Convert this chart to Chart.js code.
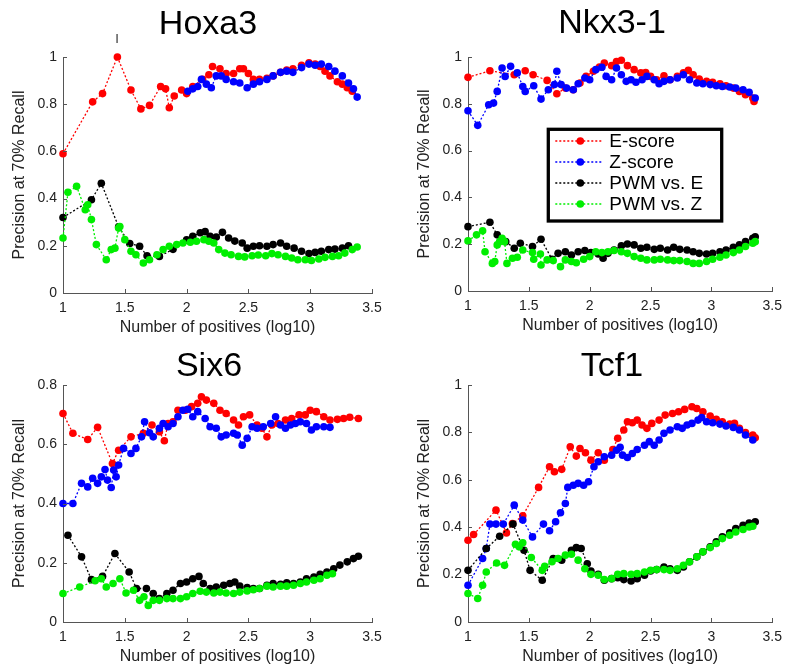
<!DOCTYPE html>
<html>
<head>
<meta charset="utf-8">
<title>Precision at 70% Recall</title>
<script src="https://cdn.jsdelivr.net/npm/chart.js@4.4.0/dist/chart.umd.min.js"></script>
<style>
    body { margin: 0; background: #fff; }
    #wrap { position: relative; width: 789px; height: 671px; }
    #wrap canvas { position: absolute; left: 0; top: 0; }
</style>
</head>
<body>
<div id="wrap">
    <canvas id="c1" width="789" height="671"></canvas>
    <canvas id="c2" width="789" height="671"></canvas>
    <canvas id="c3" width="789" height="671"></canvas>
    <canvas id="c4" width="789" height="671"></canvas>
</div>
<script>
// Series names / colours (same in every panel)
const seriesLabels = ['E-score', 'Z-score', 'PWM vs. E', 'PWM vs. Z'];
const seriesColors = ['#ff0000', '#0000ff', '#000000', '#00ee00'];
const xTicks = [1, 1.5, 2, 2.5, 3, 3.5];

// Hoxa3
const hoxa3EX = [1.0, 1.24, 1.32, 1.44, 1.55, 1.63, 1.70, 1.79, 1.83, 1.86, 1.90, 1.96, 2.0, 2.05, 2.13, 2.18, 2.21, 2.27, 2.32, 2.38, 2.43, 2.46, 2.5, 2.54, 2.59, 2.65, 2.7, 2.76, 2.81, 2.86, 2.93, 2.99, 3.04, 3.08, 3.12, 3.16, 3.22, 3.26, 3.3, 3.34];
const hoxa3EY = [0.59, 0.81, 0.845, 1.0, 0.86, 0.78, 0.795, 0.875, 0.865, 0.785, 0.835, 0.86, 0.845, 0.875, 0.905, 0.925, 0.96, 0.95, 0.93, 0.93, 0.95, 0.95, 0.93, 0.905, 0.905, 0.91, 0.92, 0.935, 0.945, 0.95, 0.965, 0.975, 0.97, 0.96, 0.94, 0.92, 0.895, 0.885, 0.87, 0.855];
const hoxa3ZX = [2.01, 2.05, 2.09, 2.12, 2.16, 2.2, 2.24, 2.28, 2.32, 2.38, 2.43, 2.49, 2.54, 2.59, 2.65, 2.7, 2.76, 2.81, 2.86, 2.93, 2.99, 3.04, 3.09, 3.15, 3.2, 3.26, 3.31, 3.35, 3.38];
const hoxa3ZY = [0.855, 0.865, 0.875, 0.905, 0.885, 0.87, 0.92, 0.92, 0.905, 0.895, 0.89, 0.87, 0.885, 0.895, 0.905, 0.92, 0.935, 0.94, 0.935, 0.955, 0.97, 0.965, 0.97, 0.96, 0.94, 0.92, 0.89, 0.865, 0.83];
const hoxa3PEX = [1.0, 1.23, 1.31, 1.45, 1.54, 1.62, 1.68, 1.78, 1.89, 2.0, 2.05, 2.11, 2.15, 2.19, 2.24, 2.29, 2.34, 2.39, 2.45, 2.49, 2.54, 2.59, 2.65, 2.7, 2.76, 2.81, 2.87, 2.93, 2.99, 3.04, 3.09, 3.15, 3.2, 3.26, 3.31];
const hoxa3PEY = [0.32, 0.395, 0.465, 0.28, 0.21, 0.198, 0.158, 0.155, 0.185, 0.225, 0.24, 0.255, 0.26, 0.24, 0.237, 0.257, 0.233, 0.22, 0.212, 0.19, 0.198, 0.2, 0.198, 0.205, 0.212, 0.198, 0.19, 0.177, 0.167, 0.172, 0.177, 0.184, 0.186, 0.19, 0.2];
const hoxa3PZX = [1.0, 1.04, 1.11, 1.18, 1.2, 1.23, 1.27, 1.35, 1.39, 1.42, 1.45, 1.46, 1.5, 1.55, 1.59, 1.65, 1.7, 1.76, 1.81, 1.86, 1.92, 1.97, 2.03, 2.08, 2.14, 2.18, 2.22, 2.26, 2.31, 2.36, 2.42, 2.47, 2.53, 2.58, 2.64, 2.69, 2.74, 2.8, 2.85, 2.9, 2.96, 3.01, 3.07, 3.12, 3.18, 3.23, 3.28, 3.34, 3.38];
const hoxa3PZY = [0.233, 0.427, 0.452, 0.353, 0.374, 0.311, 0.205, 0.141, 0.184, 0.19, 0.275, 0.282, 0.226, 0.177, 0.162, 0.127, 0.141, 0.162, 0.184, 0.198, 0.205, 0.212, 0.215, 0.219, 0.226, 0.219, 0.212, 0.184, 0.169, 0.162, 0.155, 0.153, 0.158, 0.161, 0.158, 0.167, 0.162, 0.155, 0.148, 0.141, 0.141, 0.138, 0.144, 0.151, 0.155, 0.158, 0.169, 0.184, 0.195];

// Nkx3-1
const nkxEX = [1.0, 1.18, 1.38, 1.47, 1.535, 1.65, 1.73, 1.8, 1.865, 1.92, 1.97, 2.03, 2.08, 2.12, 2.18, 2.22, 2.26, 2.31, 2.365, 2.42, 2.46, 2.5, 2.55, 2.61, 2.66, 2.72, 2.77, 2.81, 2.85, 2.9, 2.96, 3.01, 3.07, 3.12, 3.18, 3.23, 3.28, 3.34, 3.35];
const nkxEY = [0.913, 0.941, 0.924, 0.941, 0.924, 0.9, 0.843, 0.867, 0.86, 0.889, 0.917, 0.939, 0.957, 0.974, 0.963, 0.981, 0.986, 0.963, 0.946, 0.932, 0.934, 0.917, 0.903, 0.92, 0.903, 0.917, 0.932, 0.943, 0.924, 0.906, 0.896, 0.892, 0.886, 0.877, 0.867, 0.853, 0.839, 0.825, 0.81];
const nkxZX = [1.0, 1.08, 1.17, 1.21, 1.24, 1.28, 1.305, 1.35, 1.405, 1.45, 1.47, 1.54, 1.6, 1.66, 1.71, 1.73, 1.765, 1.81, 1.865, 1.905, 1.96, 2.0, 2.05, 2.1, 2.135, 2.18, 2.22, 2.26, 2.3, 2.34, 2.38, 2.43, 2.47, 2.53, 2.57, 2.61, 2.66, 2.72, 2.77, 2.82, 2.88, 2.93, 2.99, 3.04, 3.09, 3.15, 3.2, 3.26, 3.31, 3.36];
const nkxZY = [0.77, 0.708, 0.796, 0.803, 0.853, 0.953, 0.917, 0.96, 0.932, 0.874, 0.853, 0.877, 0.82, 0.86, 0.882, 0.939, 0.882, 0.867, 0.86, 0.886, 0.91, 0.903, 0.946, 0.956, 0.917, 0.903, 0.953, 0.924, 0.896, 0.903, 0.892, 0.903, 0.917, 0.903, 0.886, 0.896, 0.903, 0.91, 0.924, 0.903, 0.889, 0.886, 0.882, 0.877, 0.874, 0.872, 0.867, 0.86, 0.849, 0.825];
const nkxPEX = [1.0, 1.18, 1.24, 1.31, 1.38, 1.43, 1.53, 1.6, 1.69, 1.74, 1.8, 1.85, 1.905, 1.96, 2.01, 2.07, 2.11, 2.15, 2.2, 2.26, 2.31, 2.365, 2.42, 2.47, 2.53, 2.58, 2.64, 2.69, 2.74, 2.8, 2.85, 2.9, 2.96, 3.01, 3.07, 3.12, 3.18, 3.23, 3.28, 3.34, 3.36];
const nkxPEY = [0.275, 0.294, 0.24, 0.211, 0.183, 0.204, 0.19, 0.221, 0.136, 0.161, 0.168, 0.154, 0.168, 0.173, 0.164, 0.158, 0.14, 0.161, 0.175, 0.193, 0.201, 0.197, 0.183, 0.187, 0.178, 0.183, 0.175, 0.187, 0.178, 0.175, 0.168, 0.161, 0.158, 0.161, 0.168, 0.175, 0.187, 0.197, 0.211, 0.225, 0.232];
const nkxPZX = [1.0, 1.07, 1.12, 1.14, 1.2, 1.22, 1.24, 1.26, 1.28, 1.3, 1.32, 1.365, 1.405, 1.45, 1.53, 1.54, 1.595, 1.6, 1.65, 1.7, 1.76, 1.8, 1.85, 1.89, 1.95, 2.0, 2.05, 2.1, 2.15, 2.2, 2.26, 2.31, 2.365, 2.42, 2.47, 2.53, 2.58, 2.64, 2.69, 2.74, 2.8, 2.85, 2.9, 2.96, 3.01, 3.07, 3.12, 3.18, 3.23, 3.28, 3.34, 3.36];
const nkxPZY = [0.214, 0.24, 0.257, 0.168, 0.118, 0.126, 0.197, 0.211, 0.225, 0.211, 0.118, 0.14, 0.144, 0.175, 0.164, 0.136, 0.158, 0.111, 0.133, 0.13, 0.104, 0.133, 0.126, 0.121, 0.136, 0.147, 0.168, 0.164, 0.168, 0.173, 0.168, 0.161, 0.147, 0.14, 0.133, 0.133, 0.136, 0.133, 0.13, 0.13, 0.126, 0.118, 0.118, 0.126, 0.136, 0.144, 0.154, 0.164, 0.175, 0.19, 0.204, 0.211];

// Six6
const six6EX = [1.0, 1.08, 1.2, 1.28, 1.4, 1.45, 1.55, 1.65, 1.72, 1.78, 1.82, 1.85, 1.89, 1.93, 1.99, 2.04, 2.09, 2.12, 2.16, 2.22, 2.27, 2.32, 2.38, 2.42, 2.46, 2.51, 2.57, 2.61, 2.65, 2.69, 2.74, 2.8, 2.85, 2.91, 2.96, 3.0, 3.05, 3.11, 3.16, 3.22, 3.27, 3.32, 3.39];
const six6EY = [0.704, 0.637, 0.616, 0.657, 0.535, 0.58, 0.625, 0.637, 0.665, 0.642, 0.612, 0.67, 0.676, 0.715, 0.715, 0.727, 0.738, 0.76, 0.749, 0.738, 0.715, 0.704, 0.682, 0.665, 0.693, 0.699, 0.665, 0.654, 0.625, 0.665, 0.67, 0.682, 0.687, 0.699, 0.699, 0.715, 0.71, 0.693, 0.682, 0.684, 0.687, 0.691, 0.687];
const six6ZX = [1.0, 1.08, 1.15, 1.2, 1.24, 1.28, 1.31, 1.34, 1.36, 1.39, 1.41, 1.43, 1.45, 1.49, 1.55, 1.59, 1.635, 1.66, 1.7, 1.73, 1.78, 1.81, 1.85, 1.89, 1.93, 1.97, 2.01, 2.05, 2.09, 2.15, 2.19, 2.24, 2.28, 2.32, 2.38, 2.41, 2.45, 2.49, 2.53, 2.57, 2.62, 2.68, 2.72, 2.76, 2.8, 2.84, 2.88, 2.92, 2.97, 3.01, 3.05, 3.11, 3.16];
const six6ZY = [0.4, 0.4, 0.468, 0.456, 0.485, 0.468, 0.49, 0.515, 0.479, 0.454, 0.513, 0.49, 0.53, 0.586, 0.569, 0.586, 0.625, 0.676, 0.639, 0.625, 0.654, 0.67, 0.659, 0.67, 0.693, 0.715, 0.718, 0.693, 0.71, 0.687, 0.659, 0.654, 0.625, 0.631, 0.637, 0.631, 0.597, 0.62, 0.659, 0.654, 0.659, 0.67, 0.693, 0.665, 0.654, 0.665, 0.67, 0.676, 0.67, 0.648, 0.659, 0.659, 0.657];
const six6PEX = [1.04, 1.15, 1.23, 1.32, 1.42, 1.535, 1.595, 1.675, 1.73, 1.78, 1.84, 1.89, 1.95, 2.0, 2.05, 2.1, 2.135, 2.19, 2.24, 2.3, 2.35, 2.39, 2.43, 2.49, 2.54, 2.59, 2.65, 2.7, 2.76, 2.81, 2.865, 2.92, 2.97, 3.03, 3.08, 3.135, 3.19, 3.24, 3.3, 3.35, 3.39];
const six6PEY = [0.293, 0.22, 0.143, 0.154, 0.231, 0.169, 0.113, 0.113, 0.096, 0.079, 0.096, 0.107, 0.13, 0.135, 0.146, 0.154, 0.13, 0.113, 0.118, 0.124, 0.13, 0.135, 0.121, 0.116, 0.113, 0.113, 0.124, 0.13, 0.127, 0.132, 0.13, 0.135, 0.146, 0.152, 0.161, 0.169, 0.18, 0.192, 0.203, 0.214, 0.222];
const six6PZX = [1.0, 1.135, 1.26, 1.31, 1.35, 1.405, 1.46, 1.51, 1.57, 1.62, 1.655, 1.69, 1.73, 1.78, 1.84, 1.89, 1.95, 2.0, 2.05, 2.11, 2.16, 2.22, 2.27, 2.32, 2.38, 2.43, 2.49, 2.54, 2.59, 2.65, 2.7, 2.76, 2.81, 2.865, 2.92, 2.97, 3.03, 3.08, 3.135, 3.18];
const six6PZY = [0.096, 0.118, 0.139, 0.146, 0.118, 0.13, 0.146, 0.098, 0.107, 0.073, 0.085, 0.056, 0.073, 0.073, 0.079, 0.079, 0.079, 0.085, 0.096, 0.104, 0.101, 0.098, 0.101, 0.098, 0.096, 0.101, 0.105, 0.109, 0.113, 0.121, 0.118, 0.121, 0.121, 0.124, 0.13, 0.135, 0.141, 0.146, 0.158, 0.163];

// Tcf1
const tcf1EX = [1.0, 1.046, 1.23, 1.316, 1.365, 1.45, 1.58, 1.67, 1.71, 1.77, 1.84, 1.89, 1.92, 1.965, 2.01, 2.07, 2.12, 2.19, 2.23, 2.28, 2.31, 2.35, 2.39, 2.43, 2.47, 2.51, 2.57, 2.62, 2.68, 2.73, 2.78, 2.84, 2.88, 2.93, 2.99, 3.04, 3.09, 3.15, 3.19, 3.23, 3.28, 3.34, 3.36];
const tcf1EY = [0.345, 0.369, 0.472, 0.376, 0.415, 0.448, 0.568, 0.655, 0.634, 0.644, 0.739, 0.7, 0.732, 0.714, 0.683, 0.714, 0.683, 0.728, 0.775, 0.81, 0.845, 0.841, 0.852, 0.831, 0.817, 0.838, 0.852, 0.873, 0.88, 0.887, 0.897, 0.908, 0.901, 0.887, 0.869, 0.855, 0.845, 0.835, 0.838, 0.817, 0.799, 0.789, 0.777];
const tcf1ZX = [1.0, 1.12, 1.15, 1.18, 1.23, 1.29, 1.38, 1.45, 1.53, 1.62, 1.67, 1.72, 1.76, 1.8, 1.82, 1.865, 1.905, 1.95, 1.99, 2.035, 2.07, 2.12, 2.18, 2.22, 2.25, 2.27, 2.31, 2.35, 2.39, 2.45, 2.49, 2.53, 2.57, 2.61, 2.66, 2.72, 2.76, 2.8, 2.84, 2.89, 2.92, 2.96, 3.01, 3.07, 3.12, 3.18, 3.23, 3.28, 3.34];
const tcf1ZY = [0.155, 0.268, 0.31, 0.413, 0.413, 0.413, 0.493, 0.43, 0.359, 0.413, 0.385, 0.423, 0.461, 0.5, 0.568, 0.577, 0.585, 0.577, 0.592, 0.655, 0.676, 0.697, 0.704, 0.725, 0.737, 0.704, 0.694, 0.711, 0.728, 0.746, 0.761, 0.746, 0.768, 0.796, 0.81, 0.824, 0.817, 0.831, 0.838, 0.852, 0.863, 0.845, 0.841, 0.835, 0.827, 0.821, 0.81, 0.789, 0.768];
const tcf1PEX = [1.0, 1.15, 1.26, 1.37, 1.46, 1.51, 1.61, 1.7, 1.77, 1.85, 1.89, 1.93, 1.98, 2.01, 2.07, 2.12, 2.18, 2.23, 2.28, 2.34, 2.39, 2.45, 2.5, 2.55, 2.61, 2.66, 2.72, 2.77, 2.82, 2.88, 2.93, 2.99, 3.04, 3.09, 3.15, 3.2, 3.26, 3.31, 3.36];
const tcf1PEY = [0.218, 0.31, 0.362, 0.413, 0.303, 0.218, 0.176, 0.268, 0.261, 0.303, 0.314, 0.31, 0.246, 0.215, 0.201, 0.176, 0.183, 0.187, 0.179, 0.173, 0.183, 0.197, 0.215, 0.221, 0.232, 0.225, 0.218, 0.232, 0.254, 0.275, 0.296, 0.317, 0.338, 0.359, 0.376, 0.394, 0.408, 0.418, 0.423];
const tcf1PZX = [1.0, 1.08, 1.12, 1.15, 1.235, 1.3, 1.39, 1.42, 1.45, 1.52, 1.61, 1.63, 1.69, 1.74, 1.8, 1.85, 1.905, 1.96, 2.01, 2.07, 2.12, 2.18, 2.23, 2.28, 2.34, 2.39, 2.45, 2.5, 2.55, 2.61, 2.66, 2.72, 2.77, 2.82, 2.88, 2.93, 2.99, 3.04, 3.09, 3.15, 3.2, 3.26, 3.31, 3.34];
const tcf1PZY = [0.12, 0.099, 0.155, 0.211, 0.249, 0.239, 0.328, 0.317, 0.334, 0.272, 0.218, 0.235, 0.254, 0.268, 0.282, 0.286, 0.261, 0.225, 0.201, 0.197, 0.179, 0.183, 0.201, 0.204, 0.201, 0.204, 0.211, 0.218, 0.221, 0.221, 0.218, 0.225, 0.239, 0.254, 0.275, 0.296, 0.314, 0.331, 0.352, 0.366, 0.38, 0.39, 0.401, 0.404];

const FONT = "'Liberation Sans', Arial, Helvetica, sans-serif";
const AXIS_COLOR = '#555';
const TEXT_COLOR = '#222';
const PAGE_W = 789, PAGE_H = 671;
const Y_AXIS_W = 53;   // room for y tick labels + y title
const X_AXIS_H = 44;   // room for x tick labels + x title

const panels = [
    { id: 'c1', title: 'Hoxa3', titleX: 208, titleY: 34, yMax: 1,
      area: { left: 63, right: 372, top: 57, bottom: 293 },
      series: [[hoxa3EX, hoxa3EY], [hoxa3ZX, hoxa3ZY], [hoxa3PEX, hoxa3PEY], [hoxa3PZX, hoxa3PZY]],
      mark: { x: 117, y: 43 } },
    { id: 'c2', title: 'Nkx3-1', titleX: 612, titleY: 33, yMax: 1,
      area: { left: 468, right: 777, top: 57, bottom: 291 },
      series: [[nkxEX, nkxEY], [nkxZX, nkxZY], [nkxPEX, nkxPEY], [nkxPZX, nkxPZY]],
      legend: { left: 548.3, top: 129.3, right: 721.7, bottom: 221, rows: [141, 162, 183, 204] } },
    { id: 'c3', title: 'Six6', titleX: 209, titleY: 376, yMax: 0.8,
      area: { left: 63, right: 372, top: 385, bottom: 622 },
      series: [[six6EX, six6EY], [six6ZX, six6ZY], [six6PEX, six6PEY], [six6PZX, six6PZY]] },
    { id: 'c4', title: 'Tcf1', titleX: 612, titleY: 376, yMax: 1,
      area: { left: 468, right: 777, top: 385, bottom: 622 },
      series: [[tcf1EX, tcf1EY], [tcf1ZX, tcf1ZY], [tcf1PEX, tcf1PEY], [tcf1PZX, tcf1PZY]] }
];

const toPoints = (xs, ys) => xs.map((x, i) => ({ x: x, y: ys[i] }));
const tickText = (v) => String(Number(v.toFixed(2)));

// Draws the MATLAB-ish bits Chart.js has no option for:
// panel title, inward tick marks and the boxed legend
const panelExtras = {
    id: 'panelExtras',
    afterDraw(chart, args, opts) {
        const ctx = chart.ctx;
        const area = chart.chartArea;
        const xs = chart.scales.x;
        const ys = chart.scales.y;
        ctx.save();

        // inward ticks
        ctx.strokeStyle = AXIS_COLOR;
        ctx.lineWidth = 1;
        ctx.beginPath();
        xs.ticks.forEach(t => {
            const px = Math.round(xs.getPixelForValue(t.value)) + 0.5;
            ctx.moveTo(px, area.bottom);
            ctx.lineTo(px, area.bottom - 4);
        });
        ys.ticks.forEach(t => {
            const py = Math.round(ys.getPixelForValue(t.value)) + 0.5;
            ctx.moveTo(area.left, py);
            ctx.lineTo(area.left + 4, py);
        });
        ctx.stroke();

        // title
        ctx.fillStyle = '#000';
        ctx.font = '34px ' + FONT;
        ctx.textAlign = 'center';
        ctx.textBaseline = 'alphabetic';
        ctx.fillText(opts.title, opts.titleX, opts.titleY);

        if (opts.mark) {
            ctx.fillStyle = '#333';
            ctx.font = '13px ' + FONT;
            ctx.fillText('I', opts.mark.x, opts.mark.y);
        }

        // legend
        const lg = opts.legend;
        if (lg) {
            ctx.fillStyle = '#fff';
            ctx.fillRect(lg.left, lg.top, lg.right - lg.left, lg.bottom - lg.top);
            ctx.strokeStyle = '#000';
            ctx.lineWidth = 3.3;
            ctx.strokeRect(lg.left, lg.top, lg.right - lg.left, lg.bottom - lg.top);
            ctx.font = '19px ' + FONT;
            ctx.textAlign = 'left';
            ctx.textBaseline = 'middle';
            chart.data.datasets.forEach((ds, i) => {
                const ry = lg.rows[i];
                ctx.strokeStyle = ds.borderColor;
                ctx.lineWidth = 1.3;
                ctx.setLineDash([2, 2]);
                ctx.beginPath();
                ctx.moveTo(lg.left + 7, ry);
                ctx.lineTo(lg.left + 54, ry);
                ctx.stroke();
                ctx.setLineDash([]);
                ctx.fillStyle = ds.borderColor;
                ctx.beginPath();
                ctx.arc(lg.left + 32, ry, 3.8, 0, Math.PI * 2);
                ctx.fill();
                ctx.fillStyle = '#000';
                ctx.fillText(ds.label, lg.left + 61, ry + 0.5);
            });
        }
        ctx.restore();
    }
};

panels.forEach(p => {
    const a = p.area;
    const datasets = p.series.map((s, i) => ({
        label: seriesLabels[i],
        data: toPoints(s[0], s[1]),
        showLine: true,
        borderColor: seriesColors[i],
        backgroundColor: seriesColors[i],
        borderWidth: 1.3,
        borderDash: [2, 2],
        pointRadius: 3.8,
        pointHoverRadius: 3.8,
        pointBorderWidth: 0,
        pointBackgroundColor: seriesColors[i],
        tension: 0,
        clip: false,
        order: 3 - i   // later series drawn on top, as in the original
    }));

    new Chart(document.getElementById(p.id), {
        type: 'scatter',
        data: { datasets: datasets },
        options: {
            responsive: false,
            animation: false,
            devicePixelRatio: 1,
            events: [],
            layout: {
                padding: {
                    left: a.left - Y_AXIS_W,
                    right: PAGE_W - a.right,
                    top: a.top,
                    bottom: PAGE_H - a.bottom - X_AXIS_H
                }
            },
            plugins: {
                legend: { display: false },
                tooltip: { enabled: false },
                panelExtras: { title: p.title, titleX: p.titleX, titleY: p.titleY, legend: p.legend, mark: p.mark }
            },
            scales: {
                x: {
                    type: 'linear',
                    min: xTicks[0],
                    max: xTicks[xTicks.length - 1],
                    afterFit: (s) => { s.height = X_AXIS_H; },
                    afterBuildTicks: (s) => { s.ticks = xTicks.map(v => ({ value: v })); },
                    grid: { display: false, drawTicks: false, tickLength: 0 },
                    border: { display: true, color: AXIS_COLOR, width: 1 },
                    ticks: { padding: 7, color: TEXT_COLOR, font: { family: FONT, size: 14 },
                             maxRotation: 0, autoSkip: false, callback: tickText },
                    title: { display: true, text: 'Number of positives (log10)', color: TEXT_COLOR,
                             font: { family: FONT, size: 16 }, padding: 0 }
                },
                y: {
                    min: 0,
                    max: p.yMax,
                    afterFit: (s) => { s.width = Y_AXIS_W; },
                    grid: { display: false, drawTicks: false, tickLength: 0 },
                    border: { display: true, color: AXIS_COLOR, width: 1 },
                    ticks: { stepSize: 0.2, padding: 6, color: TEXT_COLOR, font: { family: FONT, size: 14 },
                             callback: tickText },
                    title: { display: true, text: 'Precision at 70% Recall', color: TEXT_COLOR,
                             font: { family: FONT, size: 16 }, padding: 0 }
                }
            }
        },
        plugins: [panelExtras]
    });
});
</script>
</body>
</html>
